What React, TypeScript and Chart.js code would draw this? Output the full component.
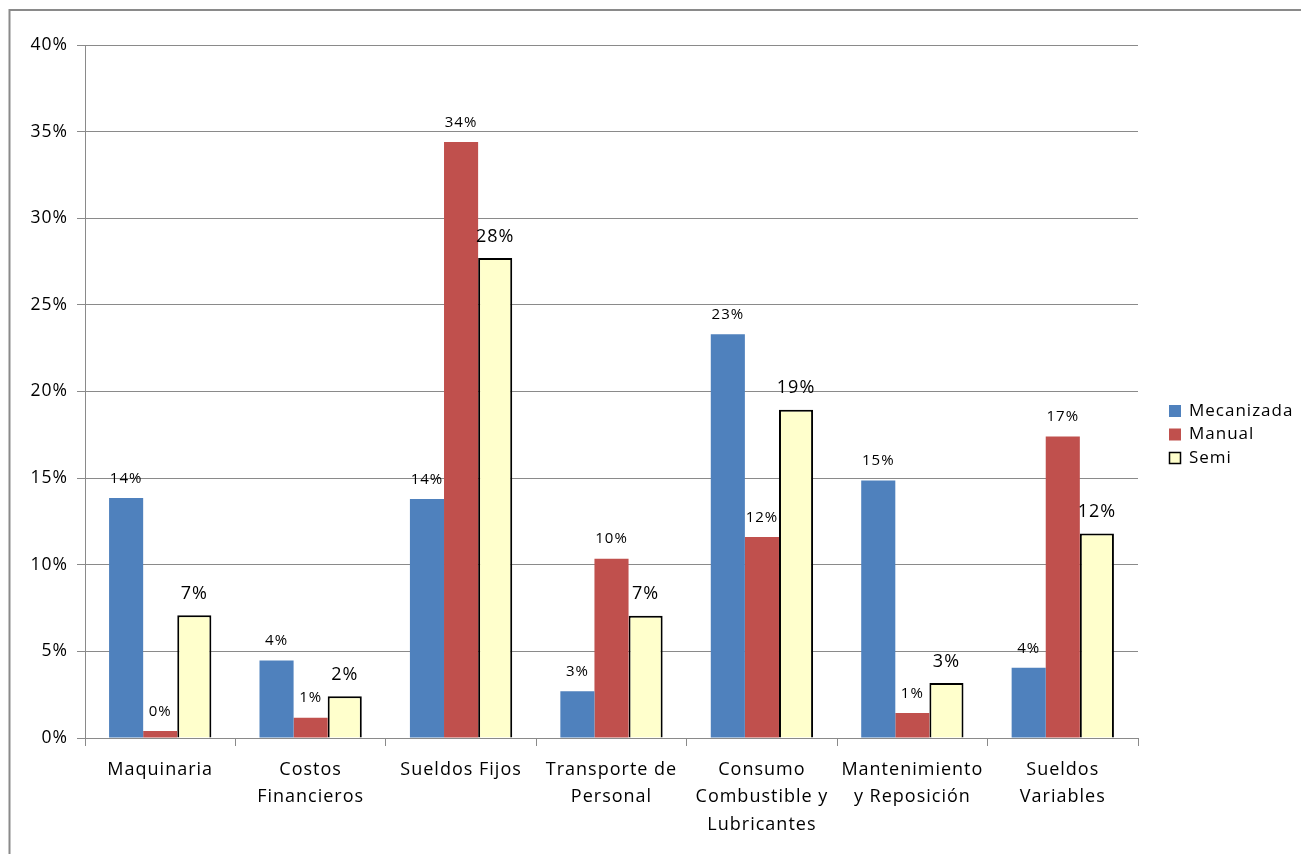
import React, { useEffect, useRef } from "react";
import { Chart, registerables } from "chart.js";

Chart.register(...registerables);

// Cost categories (multi-line axis labels)
const categories: string[][] = [
  ["Maquinaria"],
  ["Costos", "Financieros"],
  ["Sueldos Fijos"],
  ["Transporte de", "Personal"],
  ["Consumo", "Combustible y", "Lubricantes"],
  ["Mantenimiento", "y Reposición"],
  ["Sueldos", "Variables"],
];

// Share of total cost per harvesting mode, in percent
const mecanizada = [13.86, 4.47, 13.8, 2.7, 23.3, 14.86, 4.05];
const manual = [0.4, 1.17, 34.4, 10.35, 11.6, 1.45, 17.4];
const semi = [7.09, 2.41, 27.7, 7.05, 18.95, 3.18, 11.8];

const seriesNames = ["Mecanizada", "Manual", "Semi"];
const yTicks = [0, 5, 10, 15, 20, 25, 30, 35, 40];

const FONT = "'Open Sans', sans-serif";
const GRID = "#8a8a8a";

const spacingPlugin = {
  id: "spacing",
  beforeUpdate(chart: any) {
    chart.ctx.letterSpacing = "1px";
  },
  beforeDraw(chart: any) {
    chart.ctx.letterSpacing = "1px";
  },
};

const framePlugin = {
  id: "frame",
  afterDraw(chart: any) {
    const ctx = chart.ctx;
    ctx.save();
    ctx.strokeStyle = GRID;
    ctx.lineWidth = 2;
    ctx.beginPath();
    ctx.moveTo(9.5, chart.height + 5);
    ctx.lineTo(9.5, 10);
    ctx.lineTo(chart.width + 5, 10);
    ctx.stroke();
    ctx.restore();
  },
};

const valueLabelPlugin = {
  id: "valueLabels",
  afterDatasetsDraw(chart: any) {
    const ctx = chart.ctx;
    chart.data.datasets.forEach((ds: any, i: number) => {
      const meta = chart.getDatasetMeta(i);
      const big = i === 2;
      ctx.save();
      ctx.font = `${big ? 18 : 15}px ${FONT}`;
      ctx.fillStyle = "#000";
      ctx.textAlign = "center";
      ctx.textBaseline = "middle";
      meta.data.forEach((el: any, j: number) => {
        const v = ds.data[j] as number;
        ctx.fillText(Math.round(v) + "%", el.x, el.y - (big ? 21.5 : 19.5));
      });
      ctx.restore();
    });
  },
};

const legendPlugin = {
  id: "sideLegend",
  afterDraw(chart: any) {
    const ctx = chart.ctx;
    ctx.save();
    ctx.font = `17px ${FONT}`;
    ctx.textAlign = "left";
    ctx.textBaseline = "middle";
    chart.data.datasets.forEach((ds: any, i: number) => {
      const cy = 411 + i * 23.5;
      ctx.fillStyle = ds.backgroundColor;
      ctx.fillRect(1169, cy - 6, 12, 12);
      if (ds.borderWidth) {
        ctx.strokeStyle = "#000";
        ctx.lineWidth = 1.5;
        ctx.strokeRect(1169.5, cy - 5.5, 11, 11);
      }
      ctx.fillStyle = "#000";
      ctx.fillText(ds.label, 1189, cy);
    });
    ctx.restore();
  },
};

export default function App() {
  const canvasRef = useRef<HTMLCanvasElement | null>(null);

  useEffect(() => {
    if (!canvasRef.current) return;
    const chart = new Chart(canvasRef.current, {
      type: "bar",
      data: {
        labels: categories,
        datasets: [
          {
            label: seriesNames[0],
            data: mecanizada,
            backgroundColor: "#4F81BD",
            borderWidth: 0,
          },
          {
            label: seriesNames[1],
            data: manual,
            backgroundColor: "#C0504D",
            borderWidth: 0,
          },
          {
            label: seriesNames[2],
            data: semi,
            backgroundColor: "#FFFFCC",
            borderColor: "#000",
            borderWidth: 2,
          },
        ],
      },
      options: {
        responsive: false,
        animation: false,
        datasets: {
          bar: { categoryPercentage: 0.68, barPercentage: 1 },
        },
        layout: { padding: { top: 45, right: 163, left: 0, bottom: 0 } },
        plugins: {
          legend: { display: false },
          tooltip: { enabled: false },
        },
        scales: {
          x: {
            grid: {
              display: true,
              drawOnChartArea: false,
              drawTicks: true,
              tickLength: 8,
              color: GRID,
              offset: true,
            },
            border: { color: GRID, width: 1 },
            ticks: {
              color: "#000",
              padding: 10,
              maxRotation: 0,
              autoSkip: false,
              font: { family: FONT, size: 18, lineHeight: 1.53 },
            },
            afterFit(scale: any) {
              scale.height = 116;
            },
          },
          y: {
            min: 0,
            max: 40,
            afterBuildTicks(scale: any) {
              scale.ticks = yTicks.map((v) => ({ value: v }));
            },
            grid: { color: GRID, tickLength: 8, lineWidth: 1 },
            border: { color: GRID, width: 1 },
            ticks: {
              color: "#000",
              padding: 9,
              font: { family: FONT, size: 17.5 },
              callback: (v: any) => v + "%",
            },
            afterFit(scale: any) {
              scale.width = 85;
            },
          },
        },
      },
      plugins: [spacingPlugin, valueLabelPlugin, legendPlugin, framePlugin],
    });
    return () => chart.destroy();
  }, []);

  return (
    <div style={{ position: "fixed", left: 0, top: 0, width: 1301, height: 854, background: "#fff" }}>
      <canvas ref={canvasRef} width={1301} height={854} style={{ display: "block" }} />
    </div>
  );
}
